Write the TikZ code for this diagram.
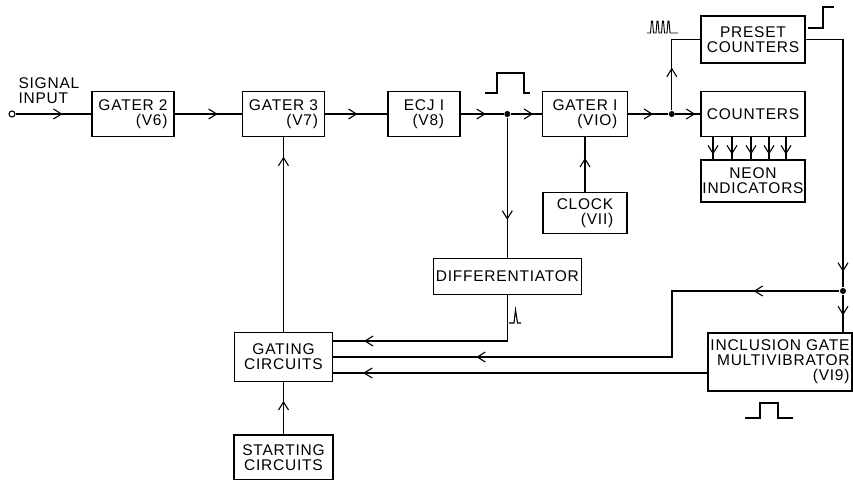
\documentclass[tikz,border=0pt]{standalone}
\usepackage{fontspec}
\setmainfont{Liberation Sans}[LetterSpace=5]
\usetikzlibrary{positioning, arrows.meta, decorations.markings, calc}

\begin{document}
\begin{tikzpicture}[
    x=1pt, y=-1pt,
    line width=1.1pt,
    box/.style={
        rectangle,
        draw,
        line width=1.5pt,
        inner sep=0pt,
        align=center,
        font=\fontsize{15.5}{15}\selectfont
    },
    gate/.style={
        box,
        align=right,
        minimum width=82pt,
        minimum height=45pt
    },
    dot/.style={
        circle,
        fill,
        inner sep=0pt,
        minimum size=6pt
    },
    midarrow/.style={
        postaction={decorate, decoration={markings,
            mark=at position #1 with {\arrow{Straight Barb[length=8pt, width=10pt]}}}}
    }
]

    \useasboundingbox (0,0) rectangle (853,479);

    % Input
    \node[circle, draw, minimum size=6pt, inner sep=0pt] (sig) at (12,114) {};
    \node[anchor=north west, inner sep=0pt, align=left,
          font=\fontsize{15.5}{15}\selectfont] (siglbl) at (18,77) {SIGNAL\\INPUT};

    % --- Main chain ---
    \node[gate] (g2) at (133,114) {GATER 2\\(V6)};
    \draw[midarrow=0.62] (sig) -- (g2);

    \node[gate, right=67pt of g2] (g3) {GATER 3\\(V7)};
    \draw[midarrow=0.64] (g2) -- (g3);

    \node[gate, right=62pt of g3, minimum width=72pt] (ecj) {ECJ I\\(V8)};
    \draw[midarrow=0.52] (g3) -- (ecj);

    \node[dot, right=43pt of ecj] (j1) {};
    \draw[midarrow=0.58] (ecj) -- (j1);

    \node[gate, right=81pt of ecj, minimum width=85pt] (g1) {GATER I\\(VIO)};
    \draw[midarrow=0.72] (j1) -- (g1);

    \node[dot, right=40pt of g1] (j2) {};
    \draw[midarrow=0.62] (g1) -- (j2);

    % Counters
    \node[box, right=72pt of g1, minimum width=104pt, minimum height=45pt] (cnt) {COUNTERS};
    \draw[midarrow=0.8] (j2) -- (cnt);

    \node[box, above=27pt of cnt, minimum width=104pt, minimum height=47pt] (pre) {PRESET\\COUNTERS};
    \draw[midarrow=0.43] (j2) |- (pre);

    \node[box, below=22pt of cnt, minimum width=104pt, minimum height=42pt] (neon) {NEON\\INDICATORS};
    \foreach \dx in {-40,-21,-2,16,33}
        \draw[midarrow=0.78] ([xshift=\dx pt]cnt.south) -- ([xshift=\dx pt]neon.north);

    % Clock and differentiator
    \node[gate, below=54.5pt of g1, minimum width=84pt, minimum height=41pt] (clk) {CLOCK\\(VII)};
    \draw[midarrow=0.62] (clk) -- (g1);

    \node[box, below=140pt of j1, minimum width=148pt, minimum height=36pt] (dif) {DIFFERENTIATOR};
    \draw[midarrow=0.73] (j1) -- (dif);

    % Gating
    \node[box, below=194.5pt of g3, minimum width=98pt, minimum height=49pt] (gat) {GATING\\CIRCUITS};
    \draw[midarrow=0.9] (gat) -- (g3);

    \node[box, below=52pt of gat, minimum width=99pt, minimum height=45pt] (strt) {STARTING\\CIRCUITS};
    \draw[midarrow=0.64] (strt) -- (gat);

    % Inclusion gate
    \node[gate, minimum width=144pt, minimum height=58pt] (incl) at (780,362)
        {INCLUSION GATE\\MULTIVIBRATOR\\(VI9)};
    \node[dot] (j3) at (843,291) {};
    \coordinate (bend) at (672,291);
    \coordinate (gin1) at ([yshift=16pt]gat.east);
    \coordinate (gin3) at ([yshift=-16pt]gat.east);

    \draw[midarrow=0.945] (pre.east) -| (j3);
    \draw[midarrow=0.55] (j3) -- (j3 |- incl.north);
    \draw[midarrow=0.15, midarrow=0.75] (j3) -- (bend) |- (gat.east);
    \draw[midarrow=0.86] (dif) |- (gin1);
    \draw[midarrow=0.92] (gin3 -| incl.west) -- (gin3);

    % Waveforms
    \draw (485,93) -- (497,93) -- (497,73) -- (524,73) -- (524,93) -- (530,93);
    \draw[line width=0.9pt] (647,33) foreach \c in {652,657.5,663,668.5}
        {-- (\c-1.5,33) -- (\c-0.5,21) -- (\c+0.5,21) -- (\c+1.5,33)} -- (678,33);
    \draw (808,28) -- (823,28) -- (823,7) -- (834,7);
    \draw (509,323) -- (514,323) -- (515.5,310) -- (517.5,323) -- (521,323);
    \draw (745,418) -- (760,418) -- (760,403) -- (778,403) -- (778,418) -- (793,418);

\end{tikzpicture}
\end{document}
